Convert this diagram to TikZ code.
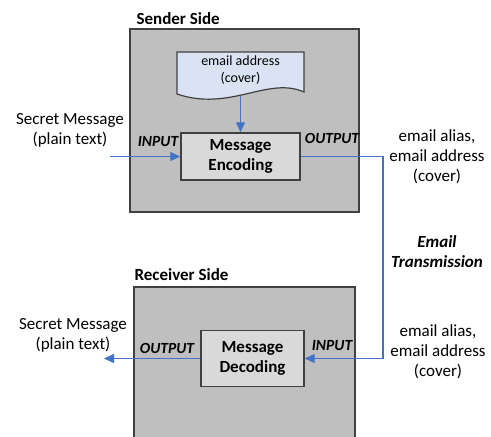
\documentclass[tikz,border=0pt]{standalone}
\usepackage{fontspec}
\setmainfont{Carlito}
\usepackage{tikz}
\usetikzlibrary{arrows.meta}
\definecolor{linkblue}{HTML}{4472C4}
\definecolor{sidegray}{HTML}{BFBFBF}
\definecolor{boxgray}{HTML}{D9D9D9}
\definecolor{edgegray}{HTML}{404040}
\definecolor{paperblue}{HTML}{DAE3F3}
\begin{document}
\begin{tikzpicture}[x=1pt,y=-1pt,
  side/.style={fill=sidegray,draw=edgegray,line width=1.4pt,inner sep=0pt},
  stage/.style={fill=boxgray,draw=edgegray,line width=1.4pt,align=center,
    inner sep=0pt,font=\fontsize{17}{20}\selectfont\bfseries},
  plain/.style={align=center,font=\fontsize{17}{20}\selectfont},
  tag/.style={font=\fontsize{15.5}{18}\selectfont\bfseries\itshape},
  head/.style={anchor=west,font=\fontsize{17}{20}\selectfont\bfseries},
  flow/.style={draw=linkblue,line width=1.1pt,-{Triangle[length=10pt,width=9pt]}}]
  \useasboundingbox
    (0,0)
    rectangle
    (491,437);
  \clip
    (0,0)
    rectangle
    (491,437);
  \node[side,minimum width=229pt,minimum height=183pt]
    (sender) at (244.5,120.5) {};
  \node[side,minimum width=221pt,minimum height=160pt]
    (receiver) at (244.5,367) {};
  \node[head] (senderhead) at (133,19) {Sender Side};
  \node[head] (receiverhead) at (131,275) {Receiver Side};
  \filldraw[fill=paperblue,draw=edgegray,line width=1.2pt]
    (177,52)
    --
    (304,52)
    --
    (304,92)
    .. controls (268,76) and (230,112) ..
    (177,94)
    --
    cycle;
  \node[align=center,font=\fontsize{14}{17}\selectfont]
    (cover) at (240.5,70.5) {email address\\(cover)};
  \coordinate (coverbot) at (240.5,96);
  \node[stage,minimum width=119pt,minimum height=47pt]
    (encode) at (240.5,156.5) {Message\\Encoding};
  \node[stage,minimum width=103pt,minimum height=56pt]
    (decode) at (252.5,358.5) {Message\\Decoding};
  \node[plain] (secretin) at (70,130) {Secret Message\\(plain text)};
  \node[plain] (secretout) at (73,335) {Secret Message\\(plain text)};
  \node[plain] (aliasout) at (437,157) {email alias,\\email address\\(cover)};
  \node[plain] (aliasin) at (438,352) {email alias,\\email address\\(cover)};
  \node[plain,font=\fontsize{17}{20}\selectfont\bfseries\itshape]
    (transmit) at (437,252) {Email\\Transmission};
  \node[tag] (encin) at (158,142) {INPUT};
  \node[tag] (encout) at (332,138) {OUTPUT};
  \node[tag] (decout) at (167,348) {OUTPUT};
  \node[tag] (decin) at (332,346) {INPUT};
  \coordinate (msgstart) at (110,156.5);
  \coordinate (msgend) at (104,358.5);
  \coordinate (relay) at (383,250);
  \draw[flow]
    (coverbot)
    --
    (encode.north);
  \draw[flow]
    (msgstart)
    --
    (encode.west);
  \draw[flow]
    (encode.east)
    -|
    (relay)
    |-
    (decode.east);
  \draw[flow]
    (decode.west)
    --
    (msgend);
\end{tikzpicture}
\end{document}
